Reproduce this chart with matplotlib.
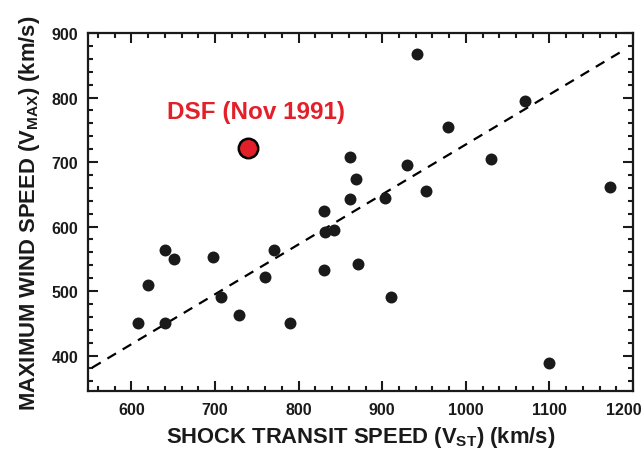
import matplotlib
matplotlib.use("Agg")
import matplotlib.pyplot as plt
from matplotlib.ticker import MultipleLocator
from matplotlib.transforms import offset_copy
import numpy as np

plt.rcParams['font.family'] = ['Liberation Sans', 'DejaVu Sans']
plt.rcParams['font.weight'] = 'bold'
plt.rcParams['mathtext.fontset'] = 'custom'
plt.rcParams['mathtext.rm'] = 'Liberation Sans:bold'
plt.rcParams['mathtext.bf'] = 'Liberation Sans:bold'

# shock transit speed vs maximum wind speed (km/s)
v_st = [608, 620, 640, 651, 640, 698, 707, 729, 760, 771, 790,
        830, 832, 842, 830, 871, 861, 869, 862, 941, 1071, 979,
        1030, 930, 952, 903, 1172, 911, 1100]
v_max = [451, 510, 563, 549, 451, 553, 491, 463, 522, 563, 450,
         624, 592, 594, 532, 542, 707, 673, 643, 867, 795, 755,
         705, 695, 655, 644, 661, 491, 388]

# the highlighted event
dsf_st = 740
dsf_max = 722
dsf_label = "DSF (Nov 1991)"

# fitted line
fit_x = [553, 1190]
fit_slope = 0.774
fit_intercept = 382.0 - 0.774 * 554

x_ticks = [600, 700, 800, 900, 1000, 1100, 1200]
y_ticks = [400, 500, 600, 700, 800, 900]

fig = plt.figure(figsize=(6.44, 4.52), dpi=100)
ax = fig.add_axes([0.1366, 0.1327, 0.8464, 0.7921])

fx = np.array(fit_x)
ax.plot(fx, fit_slope * fx + fit_intercept, color='black', lw=1.6,
        dashes=(4.5, 3.5))
ax.plot(v_st, v_max, 'o', color='#1a1a1a', ms=8.6, mec='none')
ax.plot(dsf_st, dsf_max, 'o', color='#e3202a', ms=14, mec='black', mew=1.8)
ax.text(749, 779, dsf_label, color='#e3202a', fontsize=17.5,
        fontweight='bold', ha='center', va='center')

ax.set_xlim(548, 1200)
ax.set_ylim(345, 900)
ax.set_xticks(x_ticks)
# the last label is pulled inside the figure edge, as in the original
ax.set_xticklabels([str(v) for v in x_ticks[:-1]] + [''])
ax.set_yticks(y_ticks)
ax.xaxis.set_minor_locator(MultipleLocator(20))
ax.yaxis.set_minor_locator(MultipleLocator(20))

ax.tick_params(which='both', direction='in', top=True, right=True,
               width=1.5, colors='#1a1a1a', labelsize=11.5)
ax.tick_params(which='major', length=7)
ax.tick_params(which='minor', length=3.5)
ax.tick_params(axis='x', pad=8)
ax.tick_params(axis='y', pad=7)
for s in ax.spines.values():
    s.set_linewidth(1.6)
    s.set_color('#1a1a1a')

last_tr = offset_copy(ax.get_xaxis_transform(), fig=fig, x=-9, y=-11.1,
                      units='dots')
ax.text(x_ticks[-1], 0, str(x_ticks[-1]), transform=last_tr,
        ha='center', va='top', fontsize=11.5, fontweight='bold',
        color='#1a1a1a', clip_on=False)

ax.set_xlabel(r'SHOCK TRANSIT SPEED (V$_{\mathrm{ST}}$) (km/s)',
              fontsize=15.8, fontweight='bold', color='#1a1a1a', labelpad=5)
ax.set_ylabel(r'MAXIMUM WIND SPEED (V$_{\mathrm{MAX}}$) (km/s)',
              fontsize=15.8, fontweight='bold', color='#1a1a1a', labelpad=7)

fig.savefig('out.png', dpi=100)
